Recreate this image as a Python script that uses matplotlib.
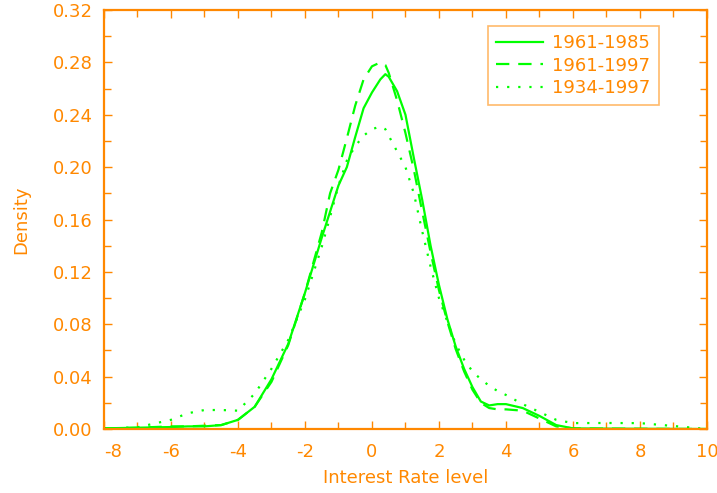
import matplotlib
matplotlib.use("Agg")
import matplotlib.pyplot as plt
from matplotlib.ticker import MultipleLocator

# Interest rate level grid
rate = [-8, -7, -6, -5.5, -5, -4.5, -4, -3.5, -3, -2.5, -2, -1.5, -1.25, -1,
        -0.75, -0.5, -0.25, 0, 0.25, 0.4, 0.5, 0.75, 1, 1.25, 1.5, 1.75, 2,
        2.25, 2.5, 2.75, 3, 3.25, 3.5, 3.75, 4, 4.5, 5, 5.5, 6, 7, 8, 9, 10]

dens_1961_1985 = [0.0005, 0.001, 0.0015, 0.002, 0.002, 0.003, 0.007, 0.017,
                  0.038, 0.065, 0.104, 0.146, 0.166, 0.186, 0.200, 0.223,
                  0.245, 0.257, 0.267, 0.271, 0.269, 0.258, 0.240, 0.207,
                  0.175, 0.140, 0.110, 0.084, 0.063, 0.046, 0.032, 0.021,
                  0.018, 0.019, 0.019, 0.016, 0.010, 0.003, 0.0005, 0.0003,
                  0.0002, 0.0001, 0.0]

dens_1961_1997 = [0.0005, 0.001, 0.002, 0.002, 0.0025, 0.003, 0.007, 0.017,
                  0.036, 0.064, 0.104, 0.150, 0.180, 0.198, 0.222, 0.247,
                  0.267, 0.277, 0.280, 0.278, 0.272, 0.251, 0.226, 0.198,
                  0.166, 0.135, 0.106, 0.082, 0.061, 0.044, 0.030, 0.020,
                  0.016, 0.015, 0.015, 0.014, 0.008, 0.002, 0.0005, 0.0003,
                  0.0002, 0.0001, 0.0]

dens_1934_1997 = [0.0003, 0.0013, 0.007, 0.012, 0.0145, 0.0145, 0.014, 0.027,
                  0.046, 0.068, 0.099, 0.139, 0.162, 0.186, 0.205, 0.216,
                  0.224, 0.229, 0.231, 0.229, 0.224, 0.212, 0.200, 0.180,
                  0.151, 0.124, 0.100, 0.082, 0.065, 0.053, 0.044, 0.038,
                  0.033, 0.029, 0.026, 0.019, 0.013, 0.007, 0.0045, 0.0046,
                  0.0045, 0.0023, 0.0]

series_labels = ["1961-1985", "1961-1997", "1934-1997"]
x_ticks = [-8, -6, -4, -2, 0, 2, 4, 6, 8, 10]

orange = "#FF8800"
green = "#00FF00"

plt.rcParams["font.family"] = ["DejaVu Sans"]

fig = plt.figure(figsize=(7.17, 4.93), dpi=100)
ax = fig.add_axes([0.145, 0.1298, 0.841, 0.8499])

ax.plot(rate, dens_1961_1985, color=green, lw=1.6, ls="-", label=series_labels[0])
ax.plot(rate, dens_1961_1997, color=green, lw=1.6, ls=(0, (6, 4)), label=series_labels[1])
ax.plot(rate, dens_1934_1997, color=green, lw=1.6, ls=(0, (1, 4)), label=series_labels[2])

ax.set_xlim(-8, 10)
ax.set_ylim(0, 0.32)
ax.set_xticks(x_ticks)
ax.set_xticklabels([str(t) for t in x_ticks])
ax.xaxis.set_minor_locator(MultipleLocator(1))
ax.yaxis.set_major_locator(MultipleLocator(0.04))
ax.yaxis.set_minor_locator(MultipleLocator(0.02))
ax.yaxis.set_major_formatter(plt.FormatStrFormatter("%.2f"))

for s in ax.spines.values():
    s.set_color(orange)
    s.set_linewidth(1.6)

ax.tick_params(which="both", direction="in", top=True, right=True,
               color=orange, labelcolor=orange, labelsize=13)
ax.tick_params(which="major", length=6, width=1)
ax.tick_params(which="minor", length=5, width=1)
ax.tick_params(axis="x", pad=10)
ax.tick_params(axis="y", pad=8)

# IDL keeps the first label inside the frame
ax.get_xticklabels()[0].set_horizontalalignment("left")

ax.set_xlabel("Interest Rate level", color=orange, fontsize=13, labelpad=6)
ax.set_ylabel("Density", color=orange, fontsize=13, labelpad=16)

leg = ax.legend(loc="upper right", bbox_to_anchor=(0.92, 0.962), fontsize=13,
                frameon=True, fancybox=False, handlelength=2.6,
                labelspacing=0.25, borderpad=0.45, handletextpad=0.5,
                borderaxespad=0)
leg.get_frame().set_edgecolor("#FFA845")
leg.get_frame().set_linewidth(1.2)
for t in leg.get_texts():
    t.set_color(orange)

fig.savefig("out.png", dpi=100)
